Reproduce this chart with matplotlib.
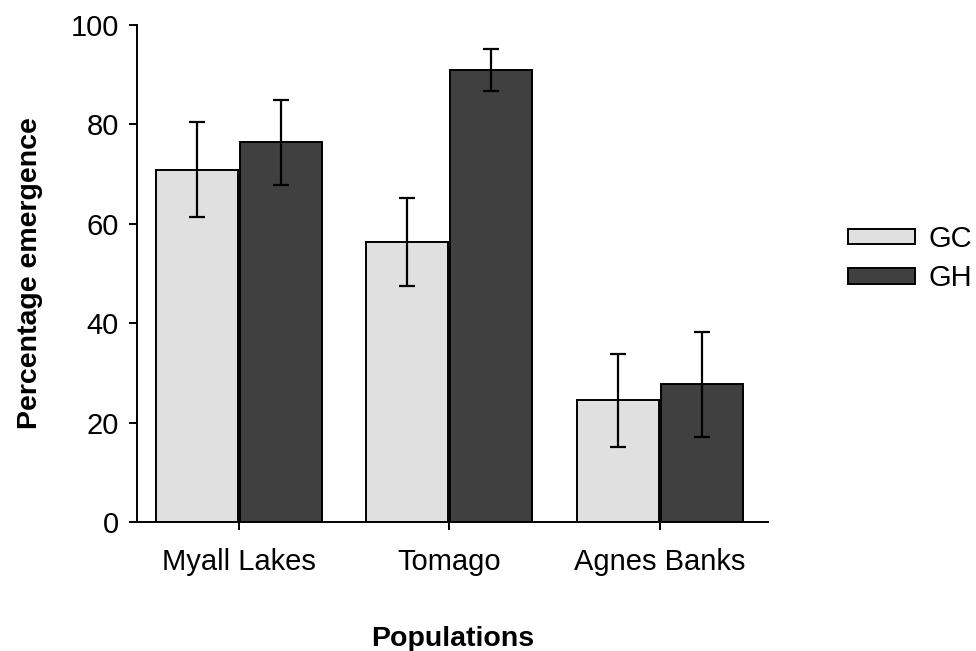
import numpy as np
import matplotlib.pyplot as plt

# emergence (%) per population, with error bars
populations = ["Myall Lakes", "Tomago", "Agnes Banks"]
gc_mean = [70.9, 56.3, 24.5]
gc_err = [9.5, 8.9, 9.3]
gh_mean = [76.4, 90.9, 27.7]
gh_err = [8.5, 4.2, 10.6]

plt.rcParams['font.family'] = ['Liberation Sans', 'DejaVu Sans']

fig = plt.figure(figsize=(9.76, 6.51), dpi=100)
ax = fig.add_axes([0.1404, 0.198, 0.6465, 0.7636])

x = np.arange(len(populations))
w = 0.39
off = 0.2
errkw = dict(elinewidth=1.6, capthick=1.6, ecolor='black')

ax.bar(x - off, gc_mean, w, yerr=gc_err, capsize=5.5, color='#e0e0e0',
       edgecolor='black', linewidth=1.4, label='GC', error_kw=errkw)
ax.bar(x + off, gh_mean, w, yerr=gh_err, capsize=5.5, color='#404040',
       edgecolor='black', linewidth=1.4, label='GH', error_kw=errkw)

ax.set_xlim(-0.485, 2.515)
ax.set_ylim(0, 100)
ax.set_yticks([0, 20, 40, 60, 80, 100])
ax.set_xticks(x)
ax.set_xticklabels(populations)

for s in ['top', 'right']:
    ax.spines[s].set_visible(False)
for s in ['left', 'bottom']:
    ax.spines[s].set_linewidth(1.4)

ax.tick_params(axis='both', labelsize=21, width=1.4, length=6, direction='out')
ax.tick_params(axis='x', pad=13)
ax.tick_params(axis='y', pad=7)

ax.set_ylabel("Percentage emergence", fontsize=20.5, fontweight='bold', labelpad=20)
ax.set_xlabel("Populations", fontsize=20.5, fontweight='bold', labelpad=36)

ax.legend(loc='center left', bbox_to_anchor=(1.085, 0.53), frameon=False,
          fontsize=21, handlelength=2.3, handleheight=0.45, labelspacing=0.4,
          handletextpad=0.45)

fig.savefig("out.png", dpi=100)
